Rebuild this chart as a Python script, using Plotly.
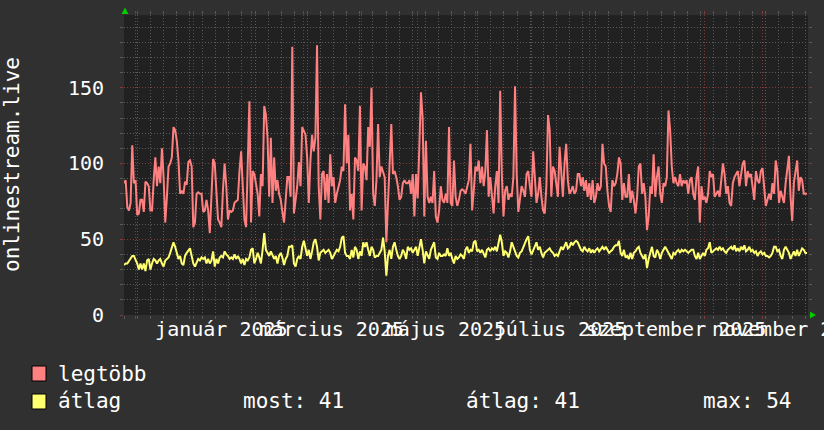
import plotly.graph_objects as go
import pandas as pd

# ---- data ----
legtobb = [
    87, 89, 71, 69, 74, 112, 87, 89, 66, 67, 76, 76, 68, 88, 87, 85, 69, 69, 89, 104,
    85, 98, 87, 110, 91, 61, 78, 98, 100, 104, 124, 122, 115, 102, 80, 82, 80, 88, 86, 101,
    102, 98, 58, 61, 80, 81, 80, 80, 68, 69, 76, 69, 54, 85, 103, 100, 82, 63, 61, 58,
    83, 100, 85, 63, 69, 68, 69, 74, 75,
    76, 95, 108, 85, 63, 58, 95, 141, 61, 95, 93, 87, 80, 65, 93, 85, 138, 132, 117, 78,
    117, 74, 104, 82, 89, 80, 76, 68, 61, 76, 91, 91, 78, 177, 67, 76, 85, 101, 85, 124,
    122, 119, 104, 74, 102, 119, 108, 117, 178, 85, 63, 93, 95, 76, 93, 74, 106, 85, 91, 74,
    80, 85, 89, 98, 95, 139, 100, 119, 69,
    80, 63, 104, 102, 95, 138, 69, 100, 98, 89, 124, 111, 150, 80, 72, 89, 126, 91, 98, 95,
    91, 48, 74, 89, 126, 93, 95, 91, 85, 76, 78, 87, 89, 87, 87, 89, 80, 93, 65, 93,
    77, 111, 147, 130, 65, 115, 78, 74, 78, 74, 95, 65, 61, 69, 85, 76, 74, 80, 74, 124,
    74, 72, 102, 78, 72, 76, 82, 83, 82,
    80, 85, 89, 113, 69, 82, 98, 95, 102, 87, 98, 85, 95, 122, 78, 91, 80, 67, 85, 95,
    74, 148, 93, 65, 82, 85, 76, 80, 78, 91, 151, 93, 68, 78, 85, 82, 78, 93, 95, 85,
    78, 108, 93, 74, 80, 91, 78, 69, 67, 85, 132, 122, 78, 98, 95, 85, 78, 111, 95, 78,
    100, 113, 89, 80, 82, 85, 80, 82, 93,
    93, 85, 91, 82, 89, 78, 87, 76, 89, 74, 78, 87, 82, 85, 113, 100, 98, 82, 72, 68,
    89, 85, 87, 93, 104, 100, 76, 87, 78, 78, 93, 74, 82, 76, 67, 78, 98, 100, 80, 87,
    78, 56, 65, 85, 80, 106, 78, 91, 98, 80, 74, 87, 85, 91, 135, 122, 98, 87, 91, 87,
    85, 93, 85, 89, 87, 89, 80, 89, 91,
    80, 76, 91, 98, 61, 85, 76, 78, 74, 80, 95, 91, 93, 78, 80, 82, 78, 87, 100, 93,
    80, 85, 74, 72, 87, 91, 93, 95, 85, 93, 100, 102, 85, 95, 91, 93, 82, 76, 95, 89,
    87, 95, 97, 82, 72, 76, 80, 76, 87, 80, 102, 95, 74, 82, 78, 74, 87, 98, 105, 78,
    62, 87, 95, 102, 82, 91, 89, 80, 80, 80,
]

atlag = [
    33, 34, 34, 36, 37, 39, 39, 37, 34, 30, 34, 30, 34, 29, 36, 37, 30, 34, 37, 36,
    34, 36, 37, 34, 32, 36, 37, 38, 41, 45, 48, 45, 41, 37, 39, 34, 33, 39, 41, 43,
    44, 39, 34, 32, 34, 37, 36, 38, 37, 38, 34, 37, 34, 36, 42, 32, 37, 34, 38, 39,
    38, 42, 40, 39, 37, 38, 37, 40, 37,
    39, 37, 34, 37, 33, 37, 36, 38, 43, 44, 34, 37, 41, 38, 34, 43, 54, 43, 41, 39,
    42, 39, 37, 39, 34, 39, 41, 38, 33, 37, 39, 45, 45, 46, 34, 32, 37, 39, 37, 45,
    49, 44, 39, 43, 37, 42, 48, 50, 45, 36, 41, 42, 43, 41, 42, 43, 41, 37, 39, 41,
    43, 42, 45, 51, 52, 41, 39, 39, 37,
    43, 38, 45, 43, 37, 42, 39, 48, 45, 48, 43, 39, 45, 43, 38, 39, 39, 41, 43, 51,
    42, 26, 39, 43, 37, 45, 48, 43, 39, 37, 39, 43, 41, 37, 45, 43, 44, 41, 43, 45,
    39, 45, 50, 43, 34, 42, 39, 37, 43, 45, 48, 38, 37, 41, 39, 39, 40, 39, 44, 39,
    41, 37, 34, 39, 37, 38, 40, 39, 37,
    43, 45, 41, 43, 42, 48, 49, 42, 43, 41, 43, 40, 38, 43, 44, 42, 44, 43, 45, 42,
    48, 53, 48, 39, 42, 41, 38, 42, 48, 45, 42, 39, 38, 41, 42, 45, 48, 50, 52, 43,
    40, 43, 45, 48, 43, 45, 41, 38, 41, 42, 43, 44, 42, 41, 39, 40, 39, 42, 45, 43,
    45, 48, 44, 45, 48, 46, 48, 49, 48,
    45, 43, 42, 45, 43, 42, 44, 41, 43, 41, 43, 44, 42, 44, 45, 43, 45, 43, 41, 42,
    43, 45, 46, 46, 49, 41, 39, 43, 38, 39, 37, 41, 37, 41, 42, 44, 45, 41, 39, 37,
    40, 31, 37, 42, 45, 39, 38, 43, 41, 37, 41, 43, 45, 43, 41, 39, 37, 41, 40, 42,
    43, 41, 43, 42, 43, 42, 41, 42, 43,
    43, 39, 37, 41, 37, 39, 41, 39, 43, 44, 48, 41, 42, 43, 44, 43, 45, 43, 44, 42,
    41, 43, 44, 45, 43, 46, 42, 44, 42, 45, 43, 46, 42, 43, 45, 42, 43, 41, 42, 39,
    41, 42, 40, 41, 39, 39, 38, 39, 41, 45, 45, 42, 43, 39, 37, 43, 45, 43, 41, 37,
    40, 42, 39, 43, 39, 42, 44, 43, 41, 41,
]

period_start = "2024-11-25"
period_end = "2025-11-25"
view_end = "2025-11-25 12:00"

label_dates = ["2025-01-16", "2025-03-16", "2025-05-16", "2025-07-16", "2025-09-16", "2025-11-16"]
label_texts = ["január 2025", "március 2025", "május 2025", "július 2025",
               "szeptember 2025", "november 2025"]
y_title = "onlinestream.live"
series_names = ["legtöbb", "átlag"]
stats_texts = ["most: 41", "átlag: 41", "max: 54"]

# ---- styling ----
RED = "#ff8080"
YEL = "#ffff70"
GRID = "#5a5a5a"
MGRID = "#803a3a"
FONT = "DejaVu Sans Mono"
PAPER = "#303030"
W, H = 824, 430
L, R, T, B = 124, 808, 15, 315


def px(x):
    return (x - L) / (R - L)


def py(y):
    return (B - y) / (B - T)


dates = pd.date_range(period_start, period_end, periods=len(legtobb))

fig = go.Figure()
fig.add_trace(go.Scatter(x=dates, y=legtobb, mode="lines", name=series_names[0],
                         line=dict(color=RED, width=2), hoverinfo="skip"))
fig.add_trace(go.Scatter(x=dates, y=atlag, mode="lines", name=series_names[1],
                         line=dict(color=YEL, width=2), hoverinfo="skip"))
fig.add_trace(go.Scatter(x=[dates[0]], y=[None], xaxis="x2", mode="lines",
                         showlegend=False, hoverinfo="skip"))

fig.update_layout(
    width=W, height=H,
    margin=dict(l=L, r=W - R, t=T, b=H - B, pad=0, autoexpand=False),
    paper_bgcolor=PAPER, plot_bgcolor="#212121",
    showlegend=False,
    font=dict(family=FONT, color="#ffffff", size=20),
    xaxis=dict(
        type="date", range=[period_start, view_end], automargin=False,
        dtick="M1", tick0="2024-12-01",
        showgrid=True, gridcolor=MGRID, griddash="1px,2px", gridwidth=1,
        showticklabels=False, ticks="outside", ticklen=3, tickcolor=MGRID,
        mirror="ticks", zeroline=False, showline=False,
        minor=dict(dtick=7 * 86400000, tick0="2024-12-02", showgrid=True,
                   gridcolor=GRID, griddash="1px,2px", ticks="outside",
                   ticklen=3, tickcolor=GRID),
    ),
    xaxis2=dict(
        type="date", overlaying="x", anchor="y", side="bottom", automargin=False,
        range=[period_start, view_end], tickangle=0, ticklabeloverflow="allow",
        tickmode="array", tickvals=label_dates, ticktext=label_texts,
        showgrid=False, ticks="", zeroline=False, showline=False,
        tickfont=dict(family=FONT, size=20, color="#ffffff"),
    ),
    yaxis=dict(
        range=[0, 198], dtick=50, tick0=0, automargin=False,
        showgrid=True, gridcolor=MGRID, griddash="1px,2px", gridwidth=1,
        ticks="outside", ticklen=3, tickcolor=MGRID, mirror="ticks",
        zeroline=False, showline=False, ticklabelstandoff=12,
        tickfont=dict(family=FONT, size=20, color="#ffffff"),
        minor=dict(dtick=10, showgrid=True, gridcolor=GRID, griddash="1px,2px",
                   ticks="outside", ticklen=3, tickcolor=GRID),
    ),
)

shapes = []
# green arrows at axis ends
shapes.append(dict(type="path", xref="paper", yref="paper",
                   path=f"M {px(121.5)} {py(14)} L {px(128.5)} {py(14)} L {px(125)} {py(7.5)} Z",
                   fillcolor="#00cc00", line=dict(width=0)))
shapes.append(dict(type="path", xref="paper", yref="paper",
                   path=f"M {px(810)} {py(311.5)} L {px(810)} {py(318.5)} L {px(816)} {py(315)} Z",
                   fillcolor="#00cc00", line=dict(width=0)))
# legend boxes
for (y0, y1, col) in [(366, 381, RED), (394, 409, YEL)]:
    shapes.append(dict(type="rect", xref="paper", yref="paper",
                       x0=px(32), x1=px(46), y0=py(y1), y1=py(y0),
                       fillcolor=col, line=dict(color="#000000", width=1)))
fig.update_layout(shapes=shapes)

annotations = [
    dict(text=y_title, xref="paper", yref="paper", x=px(12), y=0.5,
         xanchor="center", yanchor="middle", textangle=-90, showarrow=False,
         font=dict(family=FONT, size=21, color="#ffffff")),
    dict(text=series_names[0], xref="paper", yref="paper", x=px(56), y=py(374),
         xanchor="left", yanchor="middle", showarrow=False,
         font=dict(family=FONT, size=21, color="#ffffff")),
    dict(text=series_names[1], xref="paper", yref="paper", x=px(56), y=py(401),
         xanchor="left", yanchor="middle", showarrow=False,
         font=dict(family=FONT, size=21, color="#ffffff")),
]
for xpos, t in zip([241, 464, 701], stats_texts):
    annotations.append(dict(text=t, xref="paper", yref="paper", x=px(xpos), y=py(401),
                            xanchor="left", yanchor="middle", showarrow=False,
                            font=dict(family=FONT, size=21, color="#ffffff")))
fig.update_layout(annotations=annotations)

fig.write_html(
    "out.html",
    config={"displayModeBar": False},
    post_script=(
        "document.body.style.margin='0';"
        "document.body.style.overflow='hidden';"
        f"document.body.style.background='{PAPER}';"
    ),
)
